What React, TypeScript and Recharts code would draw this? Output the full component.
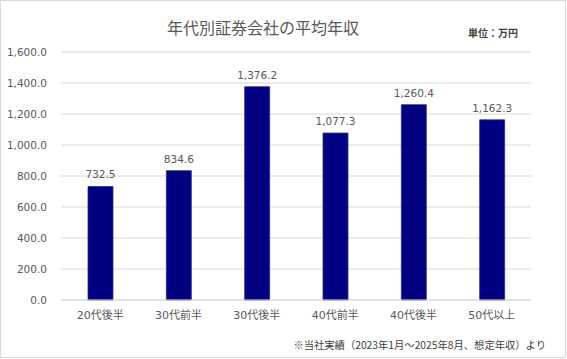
import { BarChart, Bar, XAxis, YAxis, CartesianGrid, LabelList } from 'recharts';

const categories = ['20代後半', '30代前半', '30代後半', '40代前半', '40代後半', '50代以上'];
const salaries = [732.5, 834.6, 1376.2, 1077.3, 1260.4, 1162.3];
const yTicks = [0, 200, 400, 600, 800, 1000, 1200, 1400, 1600];

const data = categories.map((name, i) => ({ name, value: salaries[i] }));

const FONT = "'DejaVu Sans', 'Noto Sans CJK JP', sans-serif";
const CJK = "'Noto Sans CJK JP', sans-serif";
const fmt = (v: number) => v.toLocaleString('en-US', { minimumFractionDigits: 1, maximumFractionDigits: 1 });

export default function App() {
  return (
    <div style={{ position: 'relative', width: 567, height: 359, background: '#fff', fontFamily: FONT }}>
      <style>{'body{margin:0}'}</style>
      <div
        style={{
          position: 'absolute',
          left: 0,
          top: 0,
          width: 566,
          height: 358,
          border: '1px solid #d9d9d9',
          boxSizing: 'border-box',
        }}
      />
      <BarChart
        width={567}
        height={359}
        data={data}
        margin={{ top: 52, right: 36, left: 0, bottom: 29 }}
        barSize={25}
      >
        <CartesianGrid vertical={false} stroke="#d9d9d9" />
        <XAxis
          dataKey="name"
          height={30}
          axisLine={{ stroke: '#d9d9d9' }}
          tickLine={false}
          tickSize={0}
          tickMargin={11}
          tick={{ fill: '#595959', fontSize: 11, fontFamily: FONT }}
        />
        <YAxis
          width={61}
          domain={[0, 1600]}
          ticks={yTicks}
          axisLine={false}
          tickLine={false}
          tickSize={0}
          tickMargin={14}
          tickFormatter={fmt}
          tick={{ fill: '#595959', fontSize: 10.5, fontFamily: FONT }}
        />
        <Bar dataKey="value" fill="#000080" stroke="#2e2e94" strokeWidth={0.8} isAnimationActive={false}>
          <LabelList
            dataKey="value"
            position="top"
            offset={8}
            formatter={(v: number) => fmt(v)}
            style={{ fill: '#595959', fontSize: 10.5, fontFamily: FONT }}
          />
        </Bar>
      </BarChart>
      <div
        style={{
          position: 'absolute',
          left: 0,
          width: 526,
          top: 16,
          textAlign: 'center',
          fontSize: 16,
          color: '#595959',
          fontFamily: CJK,
          lineHeight: '22px',
        }}
      >
        年代別証券会社の平均年収
      </div>
      <div
        style={{
          position: 'absolute',
          left: 468,
          top: 26,
          fontSize: 10,
          fontWeight: 'bold',
          color: '#404040',
          fontFamily: CJK,
          lineHeight: '14px',
        }}
      >
        単位：万円
      </div>
      <div
        style={{
          position: 'absolute',
          right: 21,
          top: 338,
          fontSize: 10.3,
          color: '#404040',
          fontFamily: CJK,
          lineHeight: '14px',
          whiteSpace: 'nowrap',
        }}
      >
        ※当社実績（2023年1月～2025年8月、想定年収）より
      </div>
    </div>
  );
}
